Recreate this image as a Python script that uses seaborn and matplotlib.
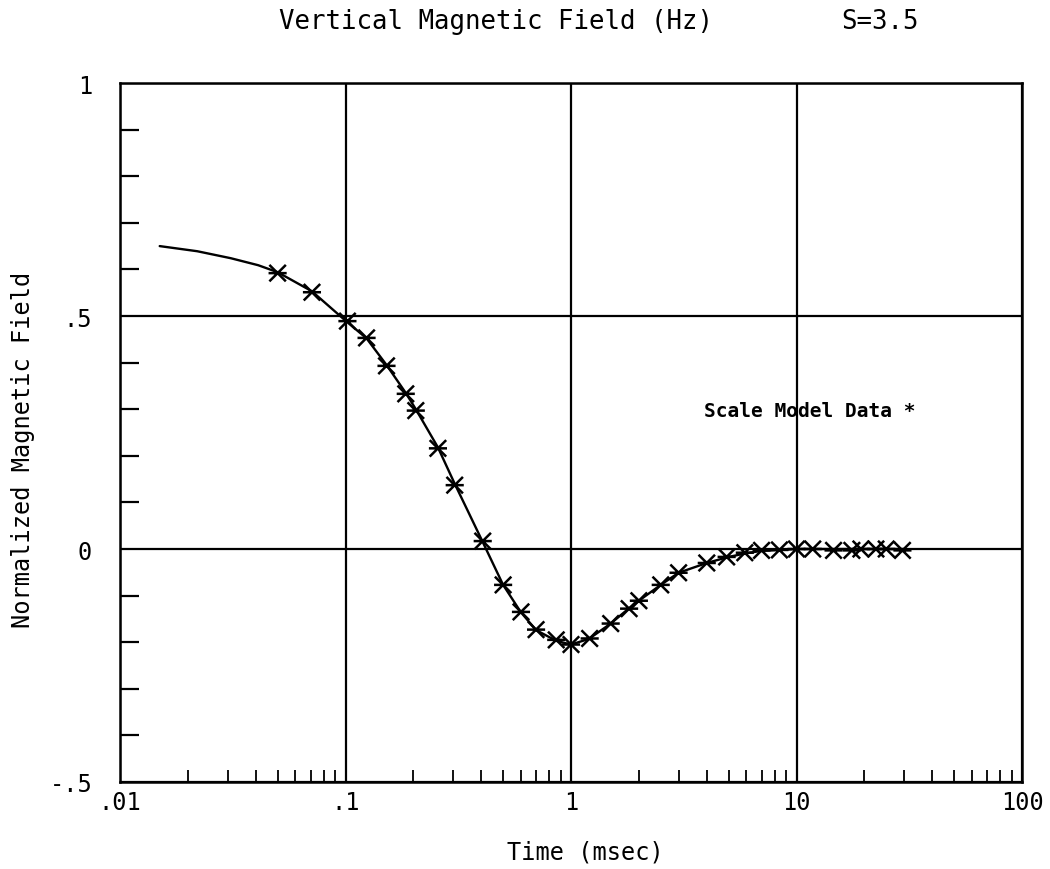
import numpy as np
import matplotlib
matplotlib.use("Agg")
import matplotlib.pyplot as plt
from matplotlib.path import Path
from matplotlib.ticker import FixedLocator, NullFormatter
import seaborn as sns

# Computed response curve (time in msec, normalized Hz)
curve_time = [0.015, 0.022, 0.031, 0.041, 0.050, 0.071, 0.100, 0.124, 0.152, 0.185,
              0.205, 0.257, 0.305, 0.350, 0.406, 0.500, 0.600, 0.700, 0.860, 1.00,
              1.20, 1.50, 1.80, 2.00, 2.50, 3.00, 4.00, 5.00, 6.00, 7.00,
              8.50, 10.0, 15.0, 20.0, 30.0]
curve_field = [0.650, 0.639, 0.624, 0.609, 0.594, 0.553, 0.490, 0.452, 0.395, 0.335,
               0.300, 0.218, 0.140, 0.080, 0.015, -0.077, -0.136, -0.174, -0.197, -0.205,
               -0.193, -0.160, -0.128, -0.111, -0.077, -0.051, -0.030, -0.017, -0.009, -0.004,
               -0.002, 0.000, 0.000, 0.000, 0.000]

# Scale model measurements
model_time = [0.050, 0.071, 0.102, 0.124, 0.152, 0.185, 0.205, 0.257, 0.305, 0.406,
              0.50, 0.60, 0.70, 0.86, 1.00, 1.21, 1.50, 1.81, 2.00, 2.50,
              3.00, 4.00, 4.90, 5.90, 7.00, 8.40, 10.0, 11.8, 14.6, 17.6,
              19.3, 22.5, 25.0, 29.5]
model_field = [0.592, 0.551, 0.489, 0.453, 0.393, 0.333, 0.297, 0.216, 0.137, 0.017,
               -0.077, -0.135, -0.173, -0.195, -0.205, -0.192, -0.160, -0.128, -0.111, -0.077,
               -0.051, -0.030, -0.017, -0.008, -0.003, -0.002, 0.000, 0.000, -0.003, -0.003,
               0.000, 0.000, 0.000, -0.003]

x_major = [0.01, 0.1, 1, 10, 100]
x_labels = [".01", ".1", "1", "10", "100"]
y_major = [-0.5, 0.0, 0.5, 1.0]
y_labels = ["-.5", "0", ".5", "1"]

title_text = "Vertical Magnetic Field (Hz)"
param_text = "S=3.5"
note_text = "Scale Model Data *"
x_title = "Time (msec)"
y_title = "Normalized Magnetic Field"

sns.set_style("white")
plt.rcParams["font.family"] = ["DejaVu Sans Mono", "DejaVu Sans"]
plt.rcParams["text.color"] = "black"
plt.rcParams["axes.labelcolor"] = "black"

# Plotter-style asterisk: a cross with a horizontal bar
asterisk = Path(
    [(-1, -1), (1, 1), (-1, 1), (1, -1), (-1.1, 0), (1.1, 0)],
    [Path.MOVETO, Path.LINETO, Path.MOVETO, Path.LINETO, Path.MOVETO, Path.LINETO],
)

fig = plt.figure(figsize=(10.5, 8.7), dpi=100)
W, H = 1050, 870
ax = fig.add_axes([120 / W, 1 - 783 / H, (1022 - 120) / W, (783 - 84) / H])

sns.lineplot(x=curve_time, y=curve_field, ax=ax, color="black", linewidth=1.7,
             estimator=None, sort=False, legend=False)
sns.scatterplot(x=model_time, y=model_field, ax=ax, marker=asterisk, s=170,
                facecolor="none", edgecolor="black", linewidth=1.8,
                legend=False, zorder=5)

ax.set_xscale("log")
ax.set_xlim(0.01, 100)
ax.set_ylim(-0.5, 1.0)

# Major positions carry the grid; short inward minor ticks on left and bottom only
ax.xaxis.set_major_locator(FixedLocator(x_major))
ax.set_xticklabels(x_labels)
minor_x = [m * 10.0 ** e for e in range(-2, 2) for m in range(2, 10)]
ax.xaxis.set_minor_locator(FixedLocator(minor_x))
ax.xaxis.set_minor_formatter(NullFormatter())

ax.yaxis.set_major_locator(FixedLocator(y_major))
ax.set_yticklabels(y_labels)
minor_y = [round(v, 1) for v in np.arange(-0.4, 1.0, 0.1)
           if abs(round(v, 1) * 2 - round(round(v, 1) * 2)) > 1e-6]
ax.yaxis.set_minor_locator(FixedLocator(minor_y))

ax.tick_params(axis="both", which="major", length=0, labelsize=17,
               colors="black", labelcolor="black")
ax.tick_params(axis="x", which="major", pad=6)
ax.tick_params(axis="y", which="major", pad=20)
ax.tick_params(axis="x", which="minor", direction="in", length=9, width=1.3,
               bottom=True, top=False, color="black")
ax.tick_params(axis="y", which="minor", direction="in", length=14, width=1.6,
               left=True, right=False, color="black")

ax.grid(True, which="major", color="black", linewidth=1.6)
ax.grid(False, which="minor")
for sp in ax.spines.values():
    sp.set_visible(True)
    sp.set_color("black")
    sp.set_linewidth(1.8)

ax.set_xlabel(x_title, fontsize=17, labelpad=0, color="black")
ax.xaxis.set_label_coords((585 - 120) / (1022 - 120), -(853 - 783) / (783 - 84))
ax.set_ylabel(y_title, fontsize=17, color="black")
ax.yaxis.set_label_coords(-(120 - 23) / (1022 - 120), (783 - 450) / (783 - 84))
ax.xaxis.label.set_va("center")
ax.yaxis.label.set_va("center")

ax.text(3.9, 0.298, note_text, fontsize=14, fontweight="bold",
        ha="left", va="center", color="black")

fig.text(496 / W, 1 - 22 / H, title_text, fontsize=18.5, ha="center", va="center",
         color="black")
fig.text(880 / W, 1 - 22 / H, param_text, fontsize=18.5, ha="center", va="center",
         color="black")

fig.savefig("out.png", dpi=100, facecolor="white")
